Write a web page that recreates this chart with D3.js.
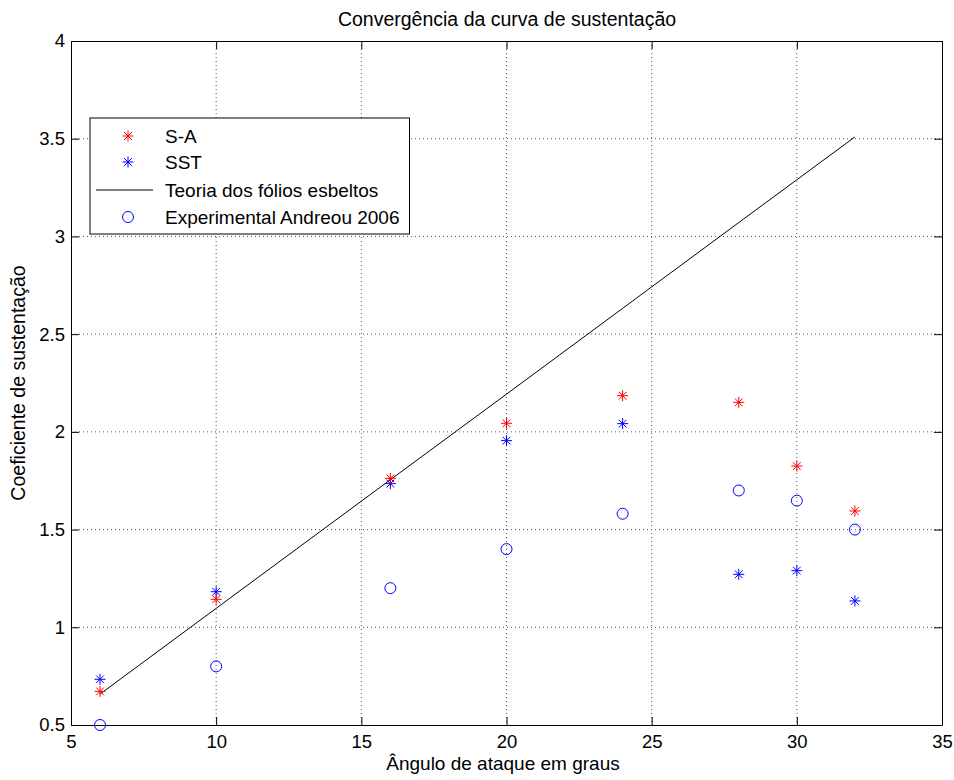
<!DOCTYPE html>
<html><head><meta charset="utf-8">
<script src="https://cdn.jsdelivr.net/npm/d3@7"></script>
<style>body{margin:0;background:#fff;} svg{display:block;font-family:"Liberation Sans",Arial,sans-serif;}</style>
</head><body>
<svg id="c" width="954" height="780"></svg>
<script>
const angles = [6, 10, 16, 20, 24, 28, 30, 32];
const saValues = [0.672, 1.143, 1.762, 2.044, 2.185, 2.151, 1.825, 1.595];
const sstValues = [0.734, 1.182, 1.735, 1.955, 2.042, 1.271, 1.290, 1.135];
const theoryValues = [0.658, 1.097, 1.755, 2.193, 2.632, 3.071, 3.290, 3.509];
const expValues = [0.50, 0.80, 1.20, 1.40, 1.581, 1.70, 1.648, 1.50];
const xTicks = [5, 10, 15, 20, 25, 30, 35];
const yTicks = [0.5, 1, 1.5, 2, 2.5, 3, 3.5, 4];
const legendLabels = ["S-A", "SST", "Teoria dos fólios esbeltos", "Experimental Andreou 2006"];

const L = 71, R = 942, T = 41, B = 725;
const svg = d3.select("#c");
const x = d3.scaleLinear().domain([5, 35]).range([L, R]);
const y = d3.scaleLinear().domain([0.5, 4]).range([B, T]);

// grid
const g = svg.append("g");
g.selectAll(".gx").data(xTicks.slice(1, -1)).enter().append("line")
  .attr("x1", d => x(d)).attr("x2", d => x(d)).attr("y1", T).attr("y2", B)
  .attr("stroke", "#555").attr("stroke-width", 1).attr("stroke-dasharray", "1,3");
g.selectAll(".gy").data(yTicks.slice(1, -1)).enter().append("line")
  .attr("y1", d => y(d)).attr("y2", d => y(d)).attr("x1", L).attr("x2", R)
  .attr("stroke", "#555").attr("stroke-width", 1).attr("stroke-dasharray", "1,3");

// axes
const fs = 18.5;
const xAxis = d3.axisBottom(x).tickValues(xTicks).tickSizeInner(-8).tickSizeOuter(0).tickPadding(10).tickFormat(d3.format("d"));
const xTop = d3.axisTop(x).tickValues(xTicks).tickSizeInner(-8).tickSizeOuter(0).tickFormat("");
const yAxis = d3.axisLeft(y).tickValues(yTicks).tickSizeInner(-8).tickSizeOuter(0).tickPadding(6).tickFormat(d => d);
const yRight = d3.axisRight(y).tickValues(yTicks).tickSizeInner(-8).tickSizeOuter(0).tickFormat("");
function style(sel){ sel.select(".domain").attr("stroke","#000"); sel.selectAll(".tick line").attr("stroke","#000"); sel.selectAll("text").attr("fill","#000").style("font-size", fs+"px").style("font-family","\"Liberation Sans\",Arial,sans-serif"); }
svg.append("g").attr("transform", `translate(0,${B})`).call(xAxis).call(style);
svg.append("g").attr("transform", `translate(0,${T})`).call(xTop).call(style);
svg.append("g").attr("transform", `translate(${L},0)`).call(yAxis).call(style);
svg.append("g").attr("transform", `translate(${R},0)`).call(yRight).call(style);

// theory line
const data = angles.map((a, i) => ({a, sa: saValues[i], sst: sstValues[i], th: theoryValues[i], ex: expValues[i]}));
svg.append("path").datum(data)
  .attr("d", d3.line().x(d => x(d.a)).y(d => y(d.th)))
  .attr("fill", "none").attr("stroke", "#000").attr("stroke-width", 1);

function star(sel, color, r){
  const p = `M${-r},0H${r}M0,${-r}V${r}M${-r*0.7},${-r*0.7}L${r*0.7},${r*0.7}M${-r*0.7},${r*0.7}L${r*0.7},${-r*0.7}`;
  sel.append("path").attr("d", p).attr("stroke", color).attr("stroke-width", 1).attr("fill", "none");
}
const r = 5.5;
data.forEach(d => {
  svg.append("circle").attr("cx", x(d.a)).attr("cy", y(d.ex)).attr("r", r).attr("fill", "none").attr("stroke", "#0000ff").attr("stroke-width", 1);
});
data.forEach(d => {
  const gs = svg.append("g").attr("transform", `translate(${x(d.a)},${y(d.sst)})`); star(gs, "#0000ff", r);
});
data.forEach(d => {
  const gs = svg.append("g").attr("transform", `translate(${x(d.a)},${y(d.sa)})`); star(gs, "#ff0000", r);
});

// legend
const lg = svg.append("g");
const lx = 90, ly = 118, lh = 116;
const box = lg.append("rect").attr("x", lx).attr("y", ly).attr("height", lh).attr("fill", "#fff").attr("stroke", "#000").attr("stroke-width", 1);
const rowsY = [136, 162, 190, 217];
let maxW = 0;
legendLabels.forEach((t, i) => {
  const yy = rowsY[i];
  if (i === 0 || i === 1) { const gs = lg.append("g").attr("transform", `translate(128,${yy})`); star(gs, i === 0 ? "#ff0000" : "#0000ff", r); }
  if (i === 2) lg.append("line").attr("x1", 96).attr("x2", 153).attr("y1", yy).attr("y2", yy).attr("stroke", "#000");
  if (i === 3) lg.append("circle").attr("cx", 128).attr("cy", yy).attr("r", r).attr("fill", "none").attr("stroke", "#0000ff");
  const tx = lg.append("text").attr("x", 165).attr("y", yy).attr("dy", "0.35em").style("font-size", "19px").text(t);
  maxW = Math.max(maxW, tx.node().getComputedTextLength());
});
box.attr("width", 165 + maxW + 10 - lx);

// titles
svg.append("text").attr("x", 507).attr("y", 19).attr("dy", "0.35em").attr("text-anchor", "middle").style("font-size", "19.5px").text("Convergência da curva de sustentação");
svg.append("text").attr("x", 503).attr("y", 763).attr("dy", "0.35em").attr("text-anchor", "middle").style("font-size", "19px").text("Ângulo de ataque em graus");
svg.append("text").attr("transform", `translate(18,${(T + B) / 2}) rotate(-90)`).attr("dy", "0.35em").attr("text-anchor", "middle").style("font-size", "19.5px").text("Coeficiente de sustentação");
</script>
</body></html>
